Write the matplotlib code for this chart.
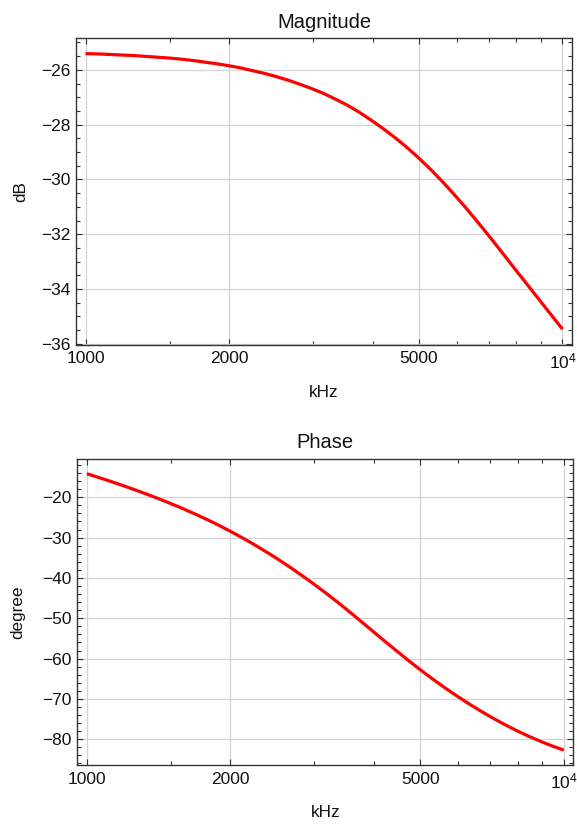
import matplotlib
matplotlib.use("Agg")
import matplotlib.pyplot as plt
from matplotlib.ticker import FixedLocator, FixedFormatter, MultipleLocator, NullFormatter

plt.rcParams['font.family'] = ['Liberation Sans', 'DejaVu Sans']
plt.rcParams['mathtext.fontset'] = 'custom'
plt.rcParams['mathtext.rm'] = 'Liberation Sans'
plt.rcParams['mathtext.it'] = 'Liberation Sans:italic'

# Frequency response samples (log-spaced frequencies)
freq_khz = [1000, 1059, 1122, 1189, 1259, 1334, 1413, 1496, 1585, 1679,
            1778, 1884, 1995, 2113, 2239, 2371, 2512, 2661, 2818, 2985,
            3162, 3350, 3548, 3758, 3981, 4217, 4467, 4732, 5012, 5309,
            5623, 5957, 6310, 6683, 7079, 7499, 7943, 8414, 8913, 9441,
            10000]
magnitude_db = [-25.41, -25.42, -25.44, -25.46, -25.48, -25.51, -25.54, -25.57,
                -25.61, -25.66, -25.72, -25.78, -25.85, -25.93, -26.03, -26.13,
                -26.25, -26.38, -26.53, -26.69, -26.87, -27.08, -27.30, -27.56,
                -27.85, -28.16, -28.49, -28.85, -29.24, -29.66, -30.11, -30.59,
                -31.09, -31.61, -32.15, -32.70, -33.26, -33.81, -34.36, -34.91,
                -35.46]
phase_deg = [-14.15, -15.09, -16.06, -17.07, -18.12, -19.20, -20.33, -21.51,
             -22.74, -24.04, -25.40, -26.84, -28.36, -29.97, -31.66, -33.44,
             -35.30, -37.26, -39.30, -41.42, -43.64, -45.94, -48.32, -50.76,
             -53.24, -55.70, -58.14, -60.53, -62.83, -65.05, -67.17, -69.19,
             -71.11, -72.93, -74.65, -76.27, -77.78, -79.17, -80.45, -81.63,
             -82.68]

x_major = [1000, 2000, 5000, 10000]
x_major_labels = ['1000', '2000', '5000', r'$\mathregular{10^{4}}$']
x_minor = [1500, 3000, 4000, 6000, 7000, 8000, 9000]

frame_color = '#333333'
grid_color = '#d4d4d4'
line_color = '#ff0000'


def style_axes(ax, title, ylabel, ymajor, yminor, ylim, ylabel_x):
    ax.set_xscale('log')
    ax.set_xlim(10 ** 2.98, 10 ** 4.02)
    ax.set_ylim(*ylim)
    ax.xaxis.set_major_locator(FixedLocator(x_major))
    ax.xaxis.set_major_formatter(FixedFormatter(x_major_labels))
    ax.xaxis.set_minor_locator(FixedLocator(x_minor))
    ax.xaxis.set_minor_formatter(NullFormatter())
    ax.yaxis.set_major_locator(MultipleLocator(ymajor))
    ax.yaxis.set_minor_locator(MultipleLocator(yminor))
    ax.grid(True, which='major', color=grid_color, linewidth=0.9)
    ax.set_axisbelow(True)
    ax.tick_params(which='both', direction='in', top=True, right=True,
                   color=frame_color, width=0.8, labelsize=12.5,
                   labelcolor='#111111')
    ax.tick_params(which='major', length=4.5)
    ax.tick_params(which='minor', length=2.6)
    ax.tick_params(axis='x', which='major', pad=4.5)
    ax.tick_params(axis='y', which='major', pad=4.3)
    for sp in ax.spines.values():
        sp.set_color(frame_color)
        sp.set_linewidth(1.0)
    ax.set_title(title, fontsize=14.5, pad=7.5, color='#111111')
    ax.set_xlabel('kHz', fontsize=12.3, color='#111111')
    ax.set_ylabel(ylabel, fontsize=12.3, color='#111111')
    ax.xaxis.set_label_coords(0.5, -0.131)
    ax.yaxis.set_label_coords(ylabel_x, 0.5)


fig = plt.figure(figsize=(5.77, 8.25), dpi=100)
ax1 = fig.add_axes([76 / 577, 1 - 345 / 825, 496 / 577, 307 / 825])
ax2 = fig.add_axes([77.3 / 577, 1 - 765.3 / 825, 496 / 577, 306.6 / 825])

ax1.plot(freq_khz, magnitude_db, color=line_color, linewidth=2.3,
         solid_capstyle='butt', solid_joinstyle='round')
style_axes(ax1, 'Magnitude', 'dB', 2, 0.5, (-36.04, -24.84), -0.096)

ax2.plot(freq_khz, phase_deg, color=line_color, linewidth=2.3,
         solid_capstyle='butt', solid_joinstyle='round')
style_axes(ax2, 'Phase', 'degree', 10, 2, (-86.45, -10.43), -0.105)

fig.savefig('out.png', dpi=100)
